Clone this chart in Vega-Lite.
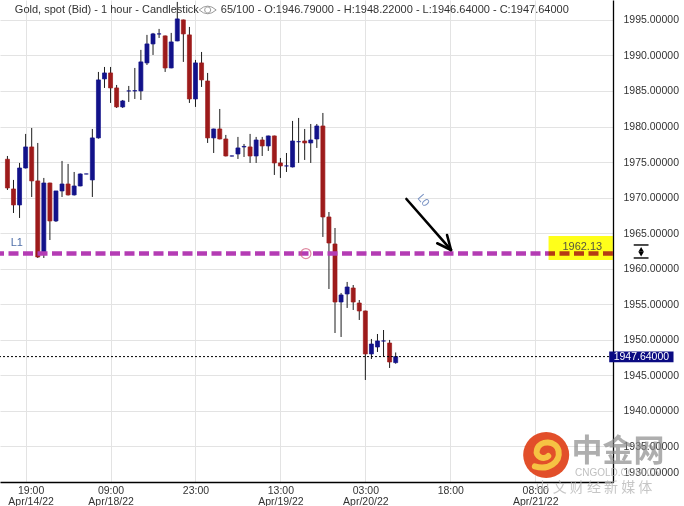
{
  "$schema": "https://vega.github.io/schema/vega-lite/v6.json",
  "width": 613,
  "height": 482,
  "autosize": {"type": "none"},
  "padding": {"left": 0, "top": 0, "right": 71, "bottom": 24},
  "background": "white",
  "config": {"view": {"stroke": null}, "font": "Liberation Sans"},
  "datasets": {
    "candles": [
      {"i":0,"o":1975.40,"h":1975.86,"l":1971.08,"c":1971.36},
      {"i":1,"o":1971.22,"h":1972.49,"l":1967.84,"c":1968.97},
      {"i":2,"o":1968.97,"h":1974.88,"l":1967.14,"c":1974.17},
      {"i":3,"o":1974.17,"h":1978.96,"l":1974.10,"c":1977.13},
      {"i":4,"o":1977.13,"h":1979.80,"l":1970.09,"c":1972.35},
      {"i":5,"o":1972.35,"h":1977.69,"l":1961.51,"c":1961.65},
      {"i":6,"o":1962.36,"h":1972.77,"l":1961.51,"c":1972.06},
      {"i":7,"o":1972.06,"h":1972.10,"l":1964.04,"c":1966.72},
      {"i":8,"o":1966.72,"h":1970.94,"l":1966.58,"c":1970.94},
      {"i":9,"o":1970.94,"h":1975.16,"l":1970.09,"c":1971.92},
      {"i":10,"o":1971.92,"h":1974.74,"l":1970.30,"c":1970.38},
      {"i":11,"o":1970.38,"h":1973.61,"l":1970.30,"c":1971.64},
      {"i":12,"o":1971.64,"h":1973.40,"l":1971.60,"c":1973.33},
      {"i":13,"o":1973.33,"h":1973.35,"l":1973.30,"c":1973.33},
      {"i":14,"o":1972.49,"h":1979.66,"l":1970.09,"c":1978.40},
      {"i":15,"o":1978.40,"h":1987.68,"l":1978.30,"c":1986.56},
      {"i":16,"o":1986.70,"h":1988.38,"l":1985.43,"c":1987.54},
      {"i":17,"o":1987.54,"h":1988.38,"l":1983.32,"c":1985.43},
      {"i":18,"o":1985.43,"h":1985.85,"l":1982.61,"c":1982.76},
      {"i":19,"o":1982.76,"h":1983.74,"l":1982.61,"c":1983.60},
      {"i":20,"o":1985.01,"h":1985.71,"l":1983.46,"c":1985.01},
      {"i":21,"o":1985.01,"h":1988.24,"l":1983.88,"c":1985.05},
      {"i":22,"o":1985.01,"h":1990.78,"l":1983.74,"c":1989.09},
      {"i":23,"o":1988.95,"h":1992.89,"l":1988.66,"c":1991.62},
      {"i":24,"o":1991.62,"h":1993.17,"l":1990.07,"c":1993.03},
      {"i":25,"o":1993.03,"h":1993.73,"l":1992.46,"c":1993.03},
      {"i":26,"o":1992.75,"h":1992.80,"l":1987.68,"c":1988.24},
      {"i":27,"o":1988.24,"h":1993.17,"l":1988.20,"c":1991.90},
      {"i":28,"o":1992.04,"h":1997.53,"l":1992.00,"c":1995.14},
      {"i":29,"o":1995.00,"h":1995.05,"l":1989.09,"c":1993.03},
      {"i":30,"o":1992.89,"h":1994.01,"l":1983.32,"c":1983.88},
      {"i":31,"o":1983.88,"h":1989.37,"l":1982.76,"c":1988.95},
      {"i":32,"o":1988.95,"h":1990.49,"l":1985.57,"c":1986.56},
      {"i":33,"o":1986.41,"h":1987.54,"l":1977.69,"c":1978.40},
      {"i":34,"o":1978.40,"h":1979.70,"l":1976.28,"c":1979.66},
      {"i":35,"o":1979.66,"h":1982.47,"l":1978.20,"c":1978.25},
      {"i":36,"o":1978.25,"h":1978.82,"l":1975.80,"c":1975.86},
      {"i":37,"o":1975.86,"h":1975.90,"l":1975.80,"c":1975.86},
      {"i":38,"o":1976.14,"h":1978.54,"l":1975.44,"c":1976.99},
      {"i":39,"o":1977.13,"h":1977.55,"l":1975.72,"c":1977.20},
      {"i":40,"o":1977.13,"h":1978.96,"l":1974.88,"c":1975.86},
      {"i":41,"o":1975.86,"h":1978.54,"l":1974.88,"c":1978.11},
      {"i":42,"o":1978.11,"h":1978.54,"l":1975.86,"c":1977.27},
      {"i":43,"o":1977.27,"h":1978.72,"l":1976.57,"c":1978.68},
      {"i":44,"o":1978.68,"h":1978.72,"l":1973.19,"c":1974.88},
      {"i":45,"o":1974.88,"h":1975.58,"l":1972.77,"c":1974.46},
      {"i":46,"o":1974.46,"h":1976.28,"l":1973.61,"c":1974.46},
      {"i":47,"o":1974.31,"h":1980.79,"l":1974.25,"c":1977.97},
      {"i":48,"o":1977.87,"h":1981.21,"l":1974.88,"c":1977.87},
      {"i":49,"o":1977.97,"h":1979.66,"l":1975.30,"c":1977.69},
      {"i":50,"o":1977.69,"h":1980.36,"l":1974.88,"c":1978.11},
      {"i":51,"o":1978.25,"h":1980.36,"l":1976.99,"c":1980.08},
      {"i":52,"o":1980.08,"h":1981.91,"l":1964.47,"c":1967.28},
      {"i":53,"o":1967.28,"h":1967.98,"l":1957.15,"c":1963.62},
      {"i":54,"o":1963.48,"h":1965.73,"l":1950.96,"c":1955.32},
      {"i":55,"o":1955.32,"h":1956.59,"l":1950.40,"c":1956.31},
      {"i":56,"o":1956.45,"h":1958.14,"l":1954.48,"c":1957.43},
      {"i":57,"o":1957.29,"h":1957.71,"l":1954.20,"c":1955.32},
      {"i":58,"o":1955.18,"h":1955.60,"l":1952.79,"c":1954.06},
      {"i":59,"o":1954.06,"h":1954.10,"l":1944.35,"c":1948.01},
      {"i":60,"o":1948.01,"h":1950.12,"l":1947.30,"c":1949.41},
      {"i":61,"o":1948.99,"h":1950.82,"l":1948.29,"c":1949.84},
      {"i":62,"o":1949.84,"h":1951.38,"l":1947.58,"c":1949.84},
      {"i":63,"o":1949.55,"h":1949.98,"l":1946.04,"c":1946.88},
      {"i":64,"o":1946.79,"h":1948.22,"l":1946.64,"c":1947.64}
    ]
  },
  "layer": [
    {
      "data": {"name": "candles"},
      "mark": {"type": "rule", "color": "#1c1c1c", "strokeWidth": 1},
      "encoding": {
        "x": {
          "field": "i", "type": "quantitative", "title": null,
          "scale": {"domain": [-0.4, 99.0], "nice": false, "zero": false},
          "axis": {
            "values": [3, 17, 31, 45, 59, 73, 87],
            "tickCount": 20,
            "labelExpr": "datum.value == 3 ? ['19:00', 'Apr/14/22'] : datum.value == 17 ? ['09:00', 'Apr/18/22'] : datum.value == 31 ? ['23:00'] : datum.value == 45 ? ['13:00', 'Apr/19/22'] : datum.value == 59 ? ['03:00', 'Apr/20/22'] : datum.value == 73 ? ['18:00'] : ['08:00', 'Apr/21/22']",
            "grid": true, "gridColor": "#e3e3e3", "gridWidth": 1,
            "ticks": false, "domainColor": "#000000", "domainWidth": 1.3,
            "labelFont": "Liberation Sans", "labelFontSize": 10.5, "labelColor": "#333333",
            "labelPadding": 3, "labelLineHeight": 11, "labelOverlap": false,
            "labelOffset": {"condition": {"test": "datum.value == 3", "value": 5}, "value": 0}
          }
        },
        "y": {
          "field": "l", "type": "quantitative", "title": null,
          "scale": {"domain": [1930, 1997.8], "nice": false, "zero": false},
          "axis": {
            "orient": "right",
            "values": [1930, 1935, 1940, 1945, 1950, 1955, 1960, 1965, 1970, 1975, 1980, 1985, 1990, 1995],
            "tickCount": 30,
            "format": ".5f",
            "grid": true, "gridColor": "#e3e3e3", "gridWidth": 1,
            "ticks": false, "domainColor": "#000000", "domainWidth": 1.3,
            "labelFont": "Liberation Sans", "labelFontSize": 10.5, "labelColor": "#333333",
            "labelPadding": 10, "labelOverlap": false,
            "labelFlush": 1, "labelFlushOffset": -5
          }
        },
        "y2": {"field": "h"}
      }
    },
    {
      "data": {"name": "candles"},
      "mark": {"type": "bar", "size": 4, "strokeWidth": 0.7},
      "encoding": {
        "x": {"field": "i", "type": "quantitative", "title": null},
        "y": {"field": "o", "type": "quantitative", "title": null},
        "y2": {"field": "c"},
        "fill": {"condition": {"test": "datum.c >= datum.o", "value": "#12128a"}, "value": "#9d1b1b"},
        "stroke": {"condition": {"test": "datum.c >= datum.o", "value": "#12128a"}, "value": "#9d1b1b"}
      }
    },
    {
      "data": {"values": [{}]},
      "mark": {"type": "rule", "color": "#000000", "strokeWidth": 1, "strokeDash": [2, 2]},
      "encoding": {"y": {"datum": 1947.64, "type": "quantitative", "title": null}}
    },
    {
      "data": {"values": [{}]},
      "mark": {"type": "rule", "color": "#b43cb4", "strokeWidth": 4.5, "strokeDash": [10, 4.5]},
      "encoding": {"y": {"datum": 1962.13, "type": "quantitative", "title": null}}
    },
    {
      "data": {"values": [{"x": 49.2, "y": 1962.13}]},
      "mark": {"type": "point", "shape": "circle", "filled": false, "size": 100, "stroke": "#d2587a", "strokeWidth": 1.2},
      "encoding": {
        "x": {"field": "x", "type": "quantitative", "title": null},
        "y": {"field": "y", "type": "quantitative", "title": null}
      }
    },
    {
      "data": {"values": [{"x": 89.2, "x2": 99.8, "y": 1961.23, "y2": 1964.61}]},
      "mark": {"type": "rect", "fill": "#ffff1a", "blend": "multiply"},
      "encoding": {
        "x": {"field": "x", "type": "quantitative", "title": null},
        "x2": {"field": "x2"},
        "y": {"field": "y", "type": "quantitative", "title": null},
        "y2": {"field": "y2"}
      }
    },
    {
      "data": {"values": [{"x": 94.76, "y": 1963.10, "t": "1962.13"}]},
      "mark": {"type": "text", "font": "Liberation Sans", "fontSize": 11, "color": "#555540", "align": "center", "baseline": "middle"},
      "encoding": {
        "x": {"field": "x", "type": "quantitative", "title": null},
        "y": {"field": "y", "type": "quantitative", "title": null},
        "text": {"field": "t"}
      }
    },
    {
      "data": {"values": [{"x": 1.54, "y": 1963.62, "t": "L1"}]},
      "mark": {"type": "text", "font": "Liberation Sans", "fontSize": 11, "color": "#4f6fa8", "align": "center", "baseline": "middle"},
      "encoding": {
        "x": {"field": "x", "type": "quantitative", "title": null},
        "y": {"field": "y", "type": "quantitative", "title": null},
        "text": {"field": "t"}
      }
    },
    {
      "data": {"values": [{"x": 68.53, "y": 1969.57, "t": "L0"}]},
      "mark": {"type": "text", "font": "Liberation Sans", "fontSize": 11, "color": "#7a93c4", "align": "center", "baseline": "middle", "angle": 50},
      "encoding": {
        "x": {"field": "x", "type": "quantitative", "title": null},
        "y": {"field": "y", "type": "quantitative", "title": null},
        "text": {"field": "t"}
      }
    },
    {
      "data": {"values": [
        {"x": 65.77, "y": 1969.81, "x2": 73.12, "y2": 1962.64},
        {"x": 70.85, "y": 1963.58, "x2": 73.12, "y2": 1962.64},
        {"x": 72.47, "y": 1964.75, "x2": 73.12, "y2": 1962.64}
      ]},
      "mark": {"type": "rule", "color": "#000000", "strokeWidth": 2.6, "strokeCap": "round"},
      "encoding": {
        "x": {"field": "x", "type": "quantitative", "title": null},
        "x2": {"field": "x2"},
        "y": {"field": "y", "type": "quantitative", "title": null},
        "y2": {"field": "y2"}
      }
    },
    {
      "data": {"values": [{"x": 99.2, "x2": 109.8, "y": 1946.86, "y2": 1948.36}]},
      "mark": {"type": "rect", "fill": "#0b0b82"},
      "encoding": {
        "x": {"field": "x", "type": "quantitative", "title": null},
        "x2": {"field": "x2"},
        "y": {"field": "y", "type": "quantitative", "title": null},
        "y2": {"field": "y2"}
      }
    },
    {
      "data": {"values": [{"x": 104.5, "y": 1947.61, "t": "1947.64000"}]},
      "mark": {"type": "text", "font": "Liberation Sans", "fontSize": 10.5, "color": "#ffffff", "align": "center", "baseline": "middle"},
      "encoding": {
        "x": {"field": "x", "type": "quantitative", "title": null},
        "y": {"field": "y", "type": "quantitative", "title": null},
        "text": {"field": "t"}
      }
    },
    {
      "data": {"values": [
        {"x": 103.24, "x2": 105.68, "y": 1963.34},
        {"x": 103.24, "x2": 105.68, "y": 1961.51}
      ]},
      "mark": {"type": "rule", "color": "#000000", "strokeWidth": 1.4},
      "encoding": {
        "x": {"field": "x", "type": "quantitative", "title": null},
        "x2": {"field": "x2"},
        "y": {"field": "y", "type": "quantitative", "title": null}
      }
    },
    {
      "data": {"values": [{"x": 104.46, "y": 1962.72}]},
      "mark": {"type": "point", "shape": "triangle-up", "filled": true, "size": 30, "color": "#000000", "opacity": 1},
      "encoding": {
        "x": {"field": "x", "type": "quantitative", "title": null},
        "y": {"field": "y", "type": "quantitative", "title": null}
      }
    },
    {
      "data": {"values": [{"x": 104.46, "y": 1962.05}]},
      "mark": {"type": "point", "shape": "triangle-down", "filled": true, "size": 30, "color": "#000000", "opacity": 1},
      "encoding": {
        "x": {"field": "x", "type": "quantitative", "title": null},
        "y": {"field": "y", "type": "quantitative", "title": null}
      }
    },
    {
      "data": {"values": [
        {"x": 1.22, "y": 1996.40, "t": "Gold, spot (Bid) - 1 hour - Candlestick"},
        {"x": 35.17, "y": 1996.40, "t": "65/100 - O:1946.79000 - H:1948.22000 - L:1946.64000 - C:1947.64000"}
      ]},
      "mark": {"type": "text", "font": "Liberation Sans", "fontSize": 11, "color": "#333333", "align": "left", "baseline": "middle"},
      "encoding": {
        "x": {"field": "x", "type": "quantitative", "title": null},
        "y": {"field": "y", "type": "quantitative", "title": null},
        "text": {"field": "t"}
      }
    },
    {
      "data": {"values": [{"x": 33.01, "y": 1996.40}]},
      "mark": {"type": "point", "shape": "M-1,0 Q0,-0.9 1,0 Q0,0.9 -1,0 Z M0.35,0 A0.35,0.35 0 1,1 -0.35,0 A0.35,0.35 0 1,1 0.35,0 Z", "filled": false, "size": 289, "stroke": "#9a9a9a", "strokeWidth": 1, "opacity": 1},
      "encoding": {
        "x": {"field": "x", "type": "quantitative", "title": null},
        "y": {"field": "y", "type": "quantitative", "title": null}
      }
    },
    {
      "data": {"values": [{"x": 88.81, "y": 1933.80}]},
      "mark": {"type": "point", "shape": "circle", "filled": true, "size": 2116, "color": "#e0461f", "opacity": 0.95},
      "encoding": {
        "x": {"field": "x", "type": "quantitative", "title": null},
        "y": {"field": "y", "type": "quantitative", "title": null}
      }
    },
    {
      "data": {"values": [{"x": 88.81, "y": 1933.80}]},
      "mark": {"type": "point", "shape": "M-0.55,0.55 C0.1,0.75 0.7,0.35 0.6,-0.2 C0.5,-0.7 -0.3,-0.75 -0.45,-0.25 C-0.55,0.1 -0.1,0.25 0.1,0.05", "filled": false, "size": 1700, "stroke": "#f6c343", "strokeWidth": 6, "strokeCap": "round", "opacity": 1},
      "encoding": {
        "x": {"field": "x", "type": "quantitative", "title": null},
        "y": {"field": "y", "type": "quantitative", "title": null}
      }
    },
    {
      "data": {"values": [{"x": 100.65, "y": 1934.22, "t": "中金网"}]},
      "mark": {"type": "text", "font": "Noto Sans CJK SC", "fontSize": 31, "fontWeight": "bold", "color": "#8c8c8c", "opacity": 0.7, "align": "center", "baseline": "middle"},
      "encoding": {
        "x": {"field": "x", "type": "quantitative", "title": null},
        "y": {"field": "y", "type": "quantitative", "title": null},
        "text": {"field": "t"}
      }
    },
    {
      "data": {"values": [{"x": 100.65, "y": 1931.26, "t": "CNGOLD.COM.CN"}]},
      "mark": {"type": "text", "font": "Liberation Sans", "fontSize": 10, "color": "#b0b0b0", "opacity": 0.8, "align": "center", "baseline": "middle"},
      "encoding": {
        "x": {"field": "x", "type": "quantitative", "title": null},
        "y": {"field": "y", "type": "quantitative", "title": null},
        "text": {"field": "t"}
      }
    },
    {
      "data": {"values": [{"x": 96.68, "y": 1929.15, "t": "中  文  财  经  新  媒  体"}]},
      "mark": {"type": "text", "font": "Noto Sans CJK SC", "fontSize": 14, "color": "#b8b8b8", "opacity": 0.8, "align": "center", "baseline": "middle"},
      "encoding": {
        "x": {"field": "x", "type": "quantitative", "title": null},
        "y": {"field": "y", "type": "quantitative", "title": null},
        "text": {"field": "t"}
      }
    }
  ]
}
